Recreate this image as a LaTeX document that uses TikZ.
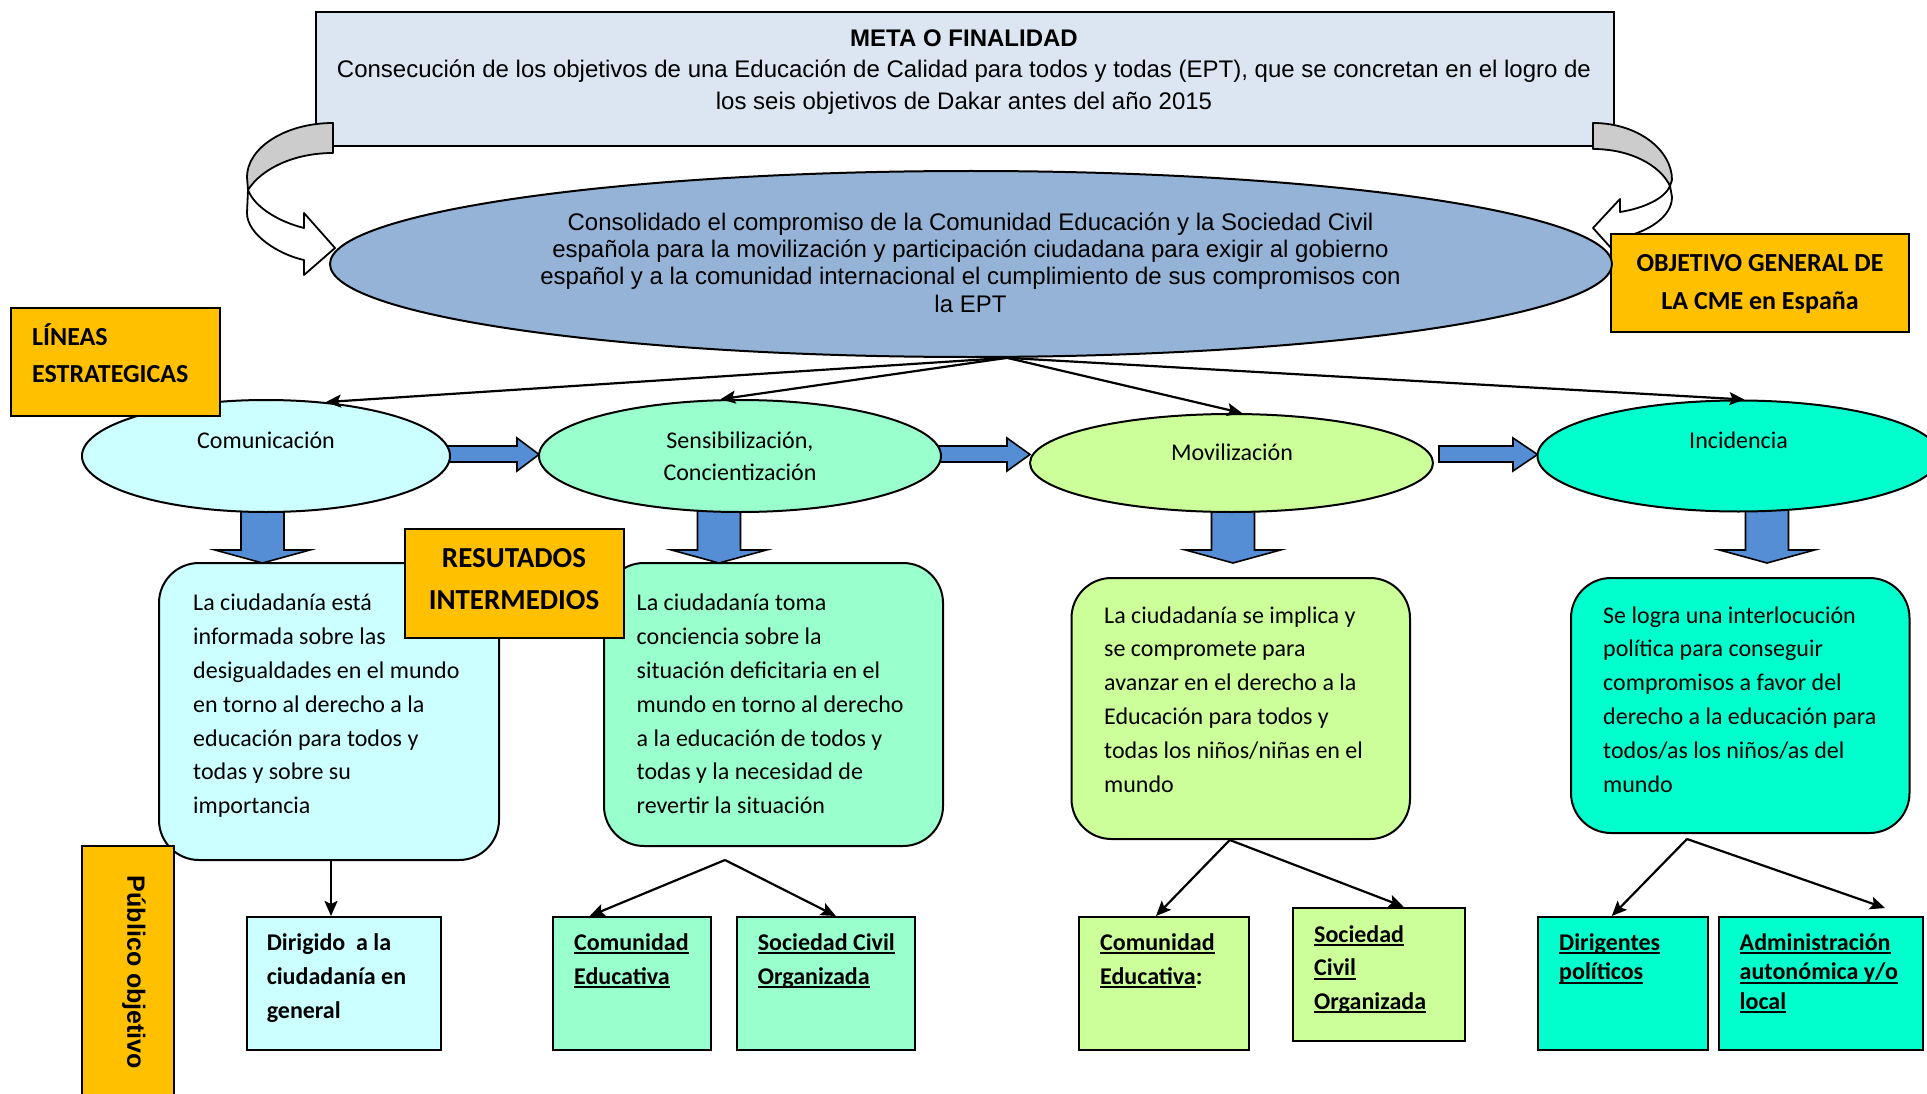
\documentclass[tikz,border=0pt]{standalone}
\usepackage{fontspec}
\setmainfont{Carlito}
\newfontfamily\arialf{Liberation Sans}
\usetikzlibrary{shapes.geometric,arrows.meta,calc}
\definecolor{topblue}{HTML}{DCE6F2}
\definecolor{goalblue}{HTML}{95B3D7}
\definecolor{orangeL}{HTML}{FFC000}
\definecolor{cyanL}{HTML}{CCFFFF}
\definecolor{greenL}{HTML}{99FFCC}
\definecolor{limeL}{HTML}{CCFF99}
\definecolor{aquaL}{HTML}{00FFCC}
\definecolor{arrowblue}{HTML}{558ED5}
\definecolor{curvegray}{HTML}{CCCCCC}
\newsavebox\ulbx
\newcommand\ulx[1]{\sbox\ulbx{#1}\rlap{\rule[-4pt]{\wd\ulbx}{2pt}}\usebox\ulbx}
\newcommand\varr[1]{\draw[barrow] ({#1-21.5},505) -- ({#1+21.5},505) -- ({#1+21.5},550) -- ({#1+47.5},550) -- (#1,563) -- ({#1-47.5},550) -- ({#1-21.5},550) -- cycle;}
\begin{document}
\begin{tikzpicture}[x=1pt,y=-1pt,
  box/.style={rectangle, draw, line width=2pt, inner sep=0pt},
  ell/.style={ellipse, draw, line width=2pt, inner sep=0pt},
  rbox/.style={rectangle, rounded corners=40pt, draw, line width=2pt, inner sep=0pt},
  lbl/.style={inner sep=0pt, align=left, anchor=north west},
  ctr/.style={inner sep=0pt, align=center, anchor=north},
  onel/.style={inner sep=0pt, anchor=base, font=\fontsize{24}{29}\selectfont},
  bodytxt/.style={lbl, font=\fontsize{24}{33.8}\selectfont},
  smalltxt/.style={lbl, font=\bfseries\fontsize{24}{34}\selectfont},
  con/.style={line width=2.2pt, -{Stealth[length=15pt,width=13pt,inset=3pt]}},
  barrow/.style={draw=black, line width=1.6pt, fill=arrowblue, line join=miter},
  curve/.style={draw=black, line width=1.8pt, line join=round}]
\useasboundingbox (0,0) rectangle (1927,1094);
\clip (0,0) rectangle (1927,1094);

% meta box
\node[box, fill=topblue, line width=2.4pt, minimum width=1298pt, minimum height=134pt] (meta) at (965,79) {};
\node[ctr, font=\arialf\fontsize{24}{31.8}\selectfont] (metaT) at (964,23.7) {{\bfseries\strut META O FINALIDAD}\\Consecución de los objetivos de una Educación de Calidad para todos y todas (EPT), que se concretan en el logro de\\los seis objetivos de Dakar antes del año 2015};

% curved arrows
\draw[curve, fill=curvegray] (333,123) .. controls (285,123) and (247,148) .. (247,177) -- (248,190) .. controls (262,168) and (295,153) .. (333,153) -- cycle;
\draw[curve, fill=white] (248,190) -- (247,213) .. controls (247,235) and (280,255) .. (304,260) -- (304,275) -- (335,248) -- (304,213) -- (304,228) .. controls (280,222) and (255,208) .. (248,190) -- cycle;
\draw[curve, fill=curvegray] (1593,123) .. controls (1638,123) and (1672,150) .. (1672,180) -- (1670,186) .. controls (1660,165) and (1630,149) .. (1593,149) -- cycle;
\draw[curve, fill=white] (1670,186) -- (1672,197) .. controls (1672,217) and (1648,232) .. (1620,238) -- (1620,258) -- (1593,228) -- (1620,199) -- (1620,212) .. controls (1645,208) and (1665,198) .. (1670,186) -- cycle;

% objective label
\node[box, fill=orangeL, minimum width=298pt, minimum height=98pt] (obj) at (1760,283) {};
\node[ctr, font=\bfseries\fontsize{26}{38}\selectfont] (objT) at (1760,244.4) {\strut OBJETIVO GENERAL DE\\LA CME en España};

% goal ellipse
\node[ell, fill=goalblue, minimum width=1282pt, minimum height=186pt] (goal) at (971,264) {};
\node[ctr, font=\arialf\fontsize{24}{27.4}\selectfont] (goalT) at (970.5,210.8) {\strut Consolidado el compromiso de la Comunidad Educación y la Sociedad Civil\\española para la movilización y participación ciudadana para exigir al gobierno\\español y a la comunidad internacional el cumplimiento de sus compromisos con\\la EPT};

% block arrows
\draw[barrow] (440,446) -- (517,446) -- (517,438) -- (539,454.5) -- (517,471) -- (517,462) -- (440,462) -- cycle;
\draw[barrow] (932,446) -- (1007,446) -- (1007,438) -- (1030,454.5) -- (1007,471) -- (1007,462) -- (932,462) -- cycle;
\draw[barrow] (1439,446) -- (1513,446) -- (1513,438) -- (1537.5,454.5) -- (1513,471) -- (1513,462) -- (1439,462) -- cycle;
\varr{262.5}
\varr{719}
\varr{1233}
\varr{1767}

% strategic lines
\node[ell, fill=cyanL, minimum width=368pt, minimum height=112pt] (com) at (266,456) {};
\node[onel] (comT) at (266,448) {Comunicación};
\node[ell, fill=greenL, minimum width=402pt, minimum height=112pt] (sen) at (740,456) {};
\node[ctr, font=\fontsize{24}{32.4}\selectfont] (senT) at (740,425.3) {\strut Sensibilización,\\Concientización};
\node[ell, fill=limeL, minimum width=403pt, minimum height=98pt] (mov) at (1231.5,463) {};
\node[onel] (movT) at (1232,460) {Movilización};
\node[ell, fill=aquaL, minimum width=402pt, minimum height=111pt] (inc) at (1738.5,456) {};
\node[onel] (incT) at (1738.5,448) {Incidencia};

\draw[con] (goal.-69) -- (com.42);
\draw[con] (goal.-69) -- (sen.109);
\draw[con] (goal.-69) -- (mov.78);
\draw[con] (goal.-69) -- (inc.84);

\node[box, fill=orangeL, minimum width=209pt, minimum height=108pt] (lin) at (115.5,362) {};
\node[lbl, font=\bfseries\fontsize{26}{37}\selectfont] (linT) at (32,319.5) {\strut LÍNEAS\\ESTRATEGICAS};

% results
\node[rbox, fill=cyanL, minimum width=340pt, minimum height=297pt] (r1) at (329,711.5) {};
\node[rbox, fill=greenL, minimum width=339pt, minimum height=283pt] (r2) at (773.5,704.5) {};
\node[rbox, fill=limeL, minimum width=338.5pt, minimum height=261pt] (r3) at (1240.75,708.5) {};
\node[rbox, fill=aquaL, minimum width=338.5pt, minimum height=255pt] (r4) at (1740.25,705.5) {};
\node[bodytxt] (r1T) at (193,587) {\strut La ciudadanía está\\informada sobre las\\desigualdades en el mundo\\en torno al derecho a la\\educación para todos y\\todas y sobre su\\importancia};
\node[bodytxt] (r2T) at (636.5,587) {\strut La ciudadanía toma\\conciencia sobre la\\situación deficitaria en el\\mundo en torno al derecho\\a la educación de todos y\\todas y la necesidad de\\revertir la situación};
\node[bodytxt] (r3T) at (1104,599.3) {\strut La ciudadanía se implica y\\se compromete para\\avanzar en el derecho a la\\Educación para todos y\\todas los niños/niñas en el\\mundo};
\node[bodytxt] (r4T) at (1603,599.3) {\strut Se logra una interlocución\\política para conseguir\\compromisos a favor del\\derecho a la educación para\\todos/as los niños/as del\\mundo};

\node[box, fill=orangeL, minimum width=219pt, minimum height=109pt] (res) at (514.5,583.2) {};
\node[ctr, font=\bfseries\fontsize{29}{42}\selectfont] (resT) at (514,537.9) {\strut RESUTADOS\\INTERMEDIOS};

% target audiences
\node[box, fill=cyanL, minimum width=194pt, minimum height=133pt] (d1) at (344,983.5) {};
\node[box, fill=greenL, minimum width=157.5pt, minimum height=133pt] (c2) at (631.75,983.5) {};
\node[box, fill=greenL, minimum width=178.4pt, minimum height=133pt] (s2) at (825.8,983.5) {};
\node[box, fill=limeL, minimum width=170pt, minimum height=133pt] (c3) at (1164,983.5) {};
\node[box, fill=limeL, minimum width=172pt, minimum height=133pt] (s3) at (1378.65,974.2) {};
\node[box, fill=aquaL, minimum width=169.6pt, minimum height=133pt] (dg) at (1622.8,983.5) {};
\node[box, fill=aquaL, minimum width=204pt, minimum height=133pt] (ad) at (1821,983.5) {};

\node[smalltxt] (d1T) at (266.6,926.2) {\strut Dirigido~ a la\\ciudadanía en\\general};
\node[smalltxt] (c2T) at (574,926.2) {\strut\ulx{Comunidad}\\\ulx{Educativa}};
\node[smalltxt] (s2T) at (757.6,926.2) {\strut\ulx{Sociedad Civil}\\\ulx{Organizada}};
\node[smalltxt] (c3T) at (1100,926.2) {\strut\ulx{Comunidad}\\\ulx{Educativa}:};
\node[smalltxt, font=\bfseries\fontsize{24}{33.6}\selectfont] (s3T) at (1314,918.5) {\strut\ulx{Sociedad}\\\ulx{Civil}\\\ulx{Organizada}};
\node[smalltxt, font=\bfseries\fontsize{24}{29.7}\selectfont] (dgT) at (1559,929.2) {\strut\ulx{Dirigentes}\\\ulx{políticos}};
\node[smalltxt, font=\bfseries\fontsize{24}{29.5}\selectfont] (adT) at (1739.5,929.3) {\strut\ulx{Administración}\\\ulx{autonómica y/o}\\\ulx{local}};

\coordinate (ap2) at (725,860);
\coordinate (ap3) at ([xshift=-11pt]r3.south);
\coordinate (ap4) at (1687,839);
\draw[con] ([xshift=2pt]r1.south) -- ([xshift=2pt]r1.south |- d1.north);
\draw[con] (ap2) -- ([xshift=-42pt]c2.north);
\draw[con] (ap2) -- ([xshift=10pt]s2.north);
\draw[con] (ap3) -- ([xshift=-8pt]c3.north);
\draw[con] (ap3) -- ([xshift=25pt]s3.north);
\draw[con] (ap4) -- ([xshift=-11pt]dg.north);
\draw[con] (ap4) -- ([xshift=64pt,yshift=8pt]ad.north);

\node[box, fill=orangeL, minimum width=91.5pt, minimum height=264pt] (pub) at (127.75,978) {};
\node[inner sep=0pt, rotate=-90, font=\arialf\bfseries\fontsize{25}{30}\selectfont] (pubT) at (134,972.5) {Público objetivo};
\end{tikzpicture}
\end{document}
